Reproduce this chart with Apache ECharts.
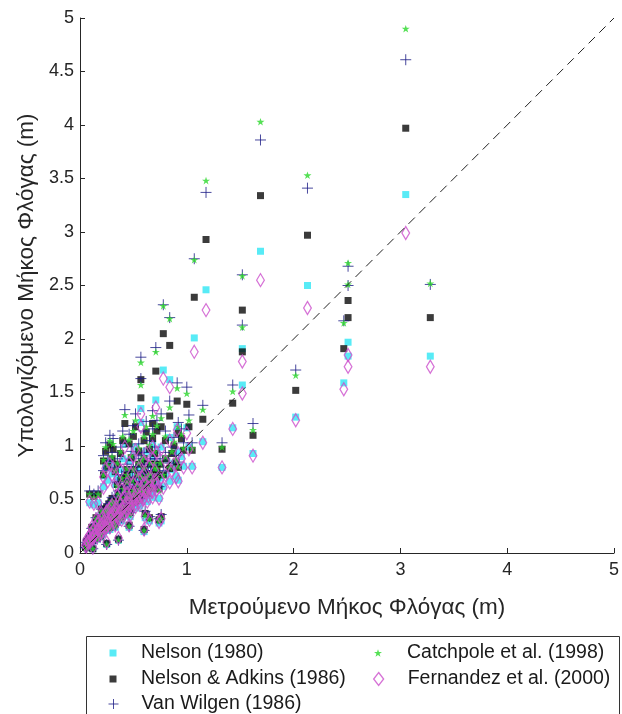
<!DOCTYPE html>
<html><head><meta charset="utf-8">
<script src="https://cdn.jsdelivr.net/npm/echarts@6/dist/echarts.min.js"></script>
<style>html,body{margin:0;padding:0;background:#fff}#c{width:622px;height:714px}</style>
</head><body><div id="c"></div>
<script>
// Measured flame length (m) — x
const measured = [
  3.05,2.13,1.69,1.18,2.51,2.51,2.47,3.28,1.52,1.52,1.43,1.15,1.33,1.62,2.02,1.07,
  0.09,0.13,0.17,0.22,0.22,0.24,0.26,0.28,0.30,0.31,0.33,0.35,0.38,0.40,0.42,0.44,0.46,0.48,0.50,0.52,
  0.55,0.57,0.57,0.58,0.60,0.62,0.65,0.68,0.68,0.70,0.71,0.72,0.76,0.78,0.80,0.84,0.84,0.88,0.91,0.92,
  0.95,1.00,1.02,
  0.12,0.25,0.36,0.46,0.60,0.61,0.65,0.74,0.76,
  0.05,0.06,0.07,0.08,0.09,0.10,0.11,0.12,0.13,0.14,0.15,0.16,0.17,0.18,0.19,0.20,0.21,0.22,0.23,0.24,
  0.25,0.26,0.27,0.28,0.29,0.30,0.31,0.32,0.33,0.34,0.35,0.36,0.37,0.38,0.39,0.40,0.41,0.42,0.43,0.44,
  0.45,0.46,0.47,0.48,0.49,0.50,0.52,0.53,0.54,0.55,0.56,0.58,0.59,0.60,0.62,0.63,0.64,0.66,0.67,0.68,
  0.70,0.72,0.74,0.75,0.78,0.80,0.84,0.86,0.90,0.92,0.97,1.05,
  0.06,0.08,0.10,0.12,0.14,0.16,0.18,0.20,0.22,0.24,0.26,0.28,0.30,0.32,0.34,0.36,0.38,0.40,0.42,0.44,
  0.46,0.48,0.50,0.52,0.54,0.56,0.58,0.60,0.62,0.64,0.66,0.68,0.70,0.72,
  0.25,0.29,0.35,0.39,0.44,0.50,0.55,0.60,0.20,0.15,0.11
];
const nelson = [
  3.35,2.50,2.82,2.46,1.97,1.84,1.59,1.84,1.91,1.57,1.17,1.04,0.80,0.93,1.27,2.01,
  0.47,0.45,0.47,0.72,0.62,0.80,0.68,0.85,0.74,0.82,0.64,0.70,0.78,0.88,1.02,0.66,0.86,0.75,0.92,0.99,
  0.80,1.35,1.22,0.72,0.88,0.95,0.82,0.90,1.02,0.78,1.43,0.96,0.99,1.71,0.88,1.08,1.62,0.84,1.18,0.95,
  0.90,1.17,0.99,
  0.04,0.08,0.12,0.24,0.20,0.33,0.30,0.28,0.30,
  0.06,0.10,0.08,0.13,0.10,0.16,0.12,0.18,0.14,0.22,0.17,0.25,0.20,0.28,0.15,0.24,0.32,0.19,0.28,0.36,
  0.22,0.31,0.40,0.26,0.35,0.44,0.30,0.38,0.24,0.42,0.33,0.48,0.37,0.45,0.30,0.40,0.52,0.36,0.46,0.56,
  0.40,0.50,0.34,0.44,0.58,0.48,0.42,0.55,0.62,0.46,0.52,0.60,0.50,0.66,0.56,0.48,0.62,0.70,0.58,0.52,
  0.66,0.60,0.51,0.70,0.62,0.74,0.67,0.78,0.72,0.68,0.81,0.81,
  0.05,0.08,0.09,0.11,0.15,0.13,0.19,0.17,0.23,0.21,0.27,0.22,0.33,0.28,0.36,0.31,0.40,0.34,0.44,0.38,
  0.46,0.40,0.52,0.46,0.50,0.44,0.55,0.52,0.60,0.54,0.63,0.58,0.70,0.66,
  0.38,0.42,0.55,0.60,0.62,0.66,0.70,0.74,0.36,0.30,0.22
];
const nelsonAdkins = [
  3.97,2.97,3.34,2.93,2.36,2.20,1.91,2.20,2.27,1.88,1.40,1.25,0.97,1.10,1.52,2.39,
  0.55,0.53,0.55,0.86,0.73,0.95,0.81,1.01,0.88,0.97,0.76,0.83,0.93,1.05,1.21,0.78,1.02,0.89,1.09,1.18,
  0.95,1.62,1.45,0.85,1.05,1.13,0.97,1.07,1.21,0.93,1.70,1.14,1.18,2.05,1.05,1.28,1.94,1.00,1.42,1.12,
  1.07,1.39,1.18,
  0.04,0.09,0.13,0.26,0.22,0.37,0.33,0.31,0.34,
  0.06,0.11,0.09,0.14,0.11,0.17,0.13,0.20,0.15,0.24,0.18,0.28,0.22,0.31,0.16,0.26,0.36,0.21,0.31,0.41,
  0.24,0.35,0.46,0.29,0.40,0.51,0.33,0.44,0.27,0.48,0.37,0.56,0.42,0.52,0.34,0.46,0.61,0.41,0.53,0.66,
  0.46,0.58,0.38,0.51,0.68,0.56,0.48,0.64,0.73,0.53,0.61,0.71,0.58,0.78,0.66,0.56,0.73,0.83,0.68,0.61,
  0.78,0.71,0.60,0.83,0.73,0.88,0.79,0.93,0.85,0.80,0.96,0.96,
  0.05,0.09,0.10,0.12,0.16,0.14,0.21,0.19,0.25,0.23,0.30,0.24,0.37,0.31,0.41,0.35,0.46,0.39,0.51,0.43,
  0.53,0.46,0.60,0.53,0.58,0.51,0.64,0.60,0.70,0.63,0.74,0.68,0.83,0.78,
  0.43,0.48,0.64,0.70,0.73,0.78,0.83,0.88,0.41,0.33,0.24
];
const vanWilgen = [
  4.61,3.41,3.86,3.37,2.68,2.50,2.17,2.51,2.60,2.13,1.57,1.38,1.03,1.21,1.71,2.75,
  0.58,0.55,0.58,0.91,0.77,1.03,0.86,1.10,0.94,1.07,0.80,0.88,0.99,1.14,1.34,0.83,1.11,0.95,1.19,1.30,
  1.02,1.83,1.63,0.91,1.14,1.23,1.05,1.16,1.33,0.99,1.92,1.24,1.30,2.32,1.14,1.42,2.20,1.08,1.59,1.22,
  1.16,1.55,1.29,
  0.04,0.08,0.12,0.25,0.21,0.39,0.34,0.32,0.36,
  0.05,0.10,0.08,0.13,0.10,0.16,0.12,0.19,0.14,0.23,0.17,0.27,0.21,0.30,0.15,0.25,0.36,0.20,0.30,0.41,
  0.23,0.34,0.46,0.28,0.40,0.52,0.33,0.44,0.26,0.49,0.37,0.58,0.42,0.54,0.33,0.46,0.63,0.41,0.55,0.69,
  0.46,0.60,0.38,0.52,0.71,0.58,0.49,0.67,0.77,0.55,0.63,0.74,0.60,0.83,0.69,0.58,0.77,0.88,0.71,0.63,
  0.83,0.74,0.62,0.88,0.77,0.94,0.84,0.99,0.91,0.85,1.03,1.03,
  0.05,0.08,0.09,0.11,0.15,0.13,0.20,0.18,0.25,0.22,0.29,0.23,0.37,0.30,0.41,0.34,0.46,0.38,0.51,0.43,
  0.54,0.46,0.62,0.54,0.59,0.51,0.66,0.62,0.73,0.64,0.77,0.70,0.88,0.82,
  0.43,0.48,0.66,0.73,0.76,0.81,0.88,0.94,0.41,0.33,0.23
];
const catchpole = [
  4.90,3.53,4.03,3.48,2.71,2.51,2.15,2.52,2.59,2.11,1.51,1.34,0.99,1.15,1.66,2.74,
  0.55,0.52,0.55,0.87,0.73,0.99,0.82,1.05,0.90,1.02,0.77,0.84,0.95,1.09,1.29,0.79,1.06,0.91,1.14,1.24,
  0.98,1.78,1.57,0.87,1.09,1.18,1.01,1.11,1.28,0.95,1.88,1.19,1.26,2.31,1.09,1.36,2.19,1.04,1.54,1.18,
  1.11,1.49,1.24,
  0.04,0.08,0.12,0.25,0.21,0.35,0.32,0.30,0.32,
  0.05,0.10,0.08,0.13,0.10,0.16,0.12,0.18,0.14,0.22,0.17,0.26,0.21,0.29,0.15,0.25,0.34,0.20,0.29,0.39,
  0.23,0.33,0.44,0.27,0.38,0.49,0.32,0.42,0.25,0.47,0.35,0.55,0.40,0.51,0.32,0.44,0.60,0.39,0.52,0.66,
  0.44,0.57,0.36,0.49,0.68,0.55,0.47,0.64,0.73,0.52,0.60,0.71,0.57,0.79,0.66,0.55,0.73,0.84,0.68,0.60,
  0.79,0.71,0.59,0.84,0.73,0.90,0.80,0.95,0.87,0.81,0.98,0.98,
  0.05,0.08,0.09,0.11,0.15,0.13,0.20,0.18,0.24,0.22,0.28,0.23,0.35,0.29,0.39,0.33,0.44,0.37,0.49,0.41,
  0.52,0.44,0.59,0.52,0.57,0.49,0.63,0.59,0.70,0.62,0.74,0.67,0.84,0.79,
  0.41,0.46,0.63,0.70,0.73,0.78,0.84,0.90,0.39,0.32,0.23
];
const fernandez = [
  2.99,2.29,2.55,2.27,1.85,1.74,1.53,1.74,1.79,1.49,1.16,1.03,0.80,0.91,1.24,1.88,
  0.48,0.46,0.47,0.71,0.61,0.79,0.67,0.83,0.73,0.80,0.63,0.69,0.77,0.86,0.99,0.65,0.84,0.74,0.90,0.96,
  0.79,1.30,1.18,0.71,0.86,0.93,0.81,0.88,0.99,0.77,1.36,0.94,0.97,1.63,0.86,1.05,1.55,0.83,1.15,0.93,
  0.88,1.12,0.97,
  0.05,0.10,0.14,0.26,0.22,0.34,0.31,0.29,0.32,
  0.07,0.12,0.10,0.15,0.12,0.18,0.14,0.20,0.16,0.24,0.19,0.27,0.22,0.30,0.17,0.26,0.33,0.21,0.30,0.37,
  0.24,0.32,0.41,0.28,0.36,0.45,0.31,0.39,0.26,0.43,0.34,0.48,0.38,0.46,0.31,0.41,0.52,0.37,0.47,0.56,
  0.41,0.50,0.35,0.45,0.58,0.48,0.43,0.55,0.61,0.47,0.52,0.59,0.50,0.65,0.56,0.48,0.61,0.69,0.58,0.52,
  0.65,0.59,0.51,0.69,0.61,0.73,0.66,0.77,0.71,0.67,0.80,0.80,
  0.06,0.10,0.11,0.13,0.17,0.15,0.21,0.19,0.25,0.23,0.28,0.24,0.34,0.29,0.37,0.32,0.40,0.35,0.44,0.39,
  0.46,0.41,0.51,0.46,0.50,0.45,0.54,0.51,0.59,0.53,0.62,0.57,0.68,0.65,
  0.39,0.43,0.54,0.59,0.61,0.65,0.69,0.73,0.37,0.31,0.24
];
const seriesNames = ['Nelson (1980)','Nelson & Adkins (1986)','Van Wilgen (1986)','Catchpole et al. (1998)','Fernandez et al. (2000)'];
const xTicks = [0,1,2,3,4,5];
const yTicks = [0,0.5,1,1.5,2,2.5,3,3.5,4,4.5,5];
const refLine = [[0,0],[5,5]];
const xName = 'Μετρούμενο Μήκος Φλόγας (m)';
const yName = 'Υπολογιζόμενο Μήκος Φλόγας (m)';

const SQ = 'path://M0,0H10V10H0Z';
const PLUS = 'path://M0,5H10M5,0V10';
const STAR = 'path://M5,0L6.2,3.6L10,3.6L6.9,5.8L8.1,9.5L5,7.2L1.9,9.5L3.1,5.8L0,3.6L3.8,3.6Z';
const DIA = 'path://M5,0L10,6.5L5,13L0,6.5Z';
const CYAN = '#2ee6f4', BLACK = '#0a0a0a', NAVY = '#1c1c86', GREEN = '#2ad82a', MAG = '#cc4fcc';

const pair = arr => measured.map((x, i) => [x, arr[i]]);
const FONT = 'Liberation Sans, Arial, sans-serif';
const axisCol = '#262626';

const styles = [
  {symbol: SQ, size: 7, itemStyle: {color: CYAN}},
  {symbol: SQ, size: 7, itemStyle: {color: BLACK}},
  {symbol: PLUS, size: 11, itemStyle: {color: NAVY, borderColor: NAVY, borderWidth: 1}},
  {symbol: STAR, size: 8, itemStyle: {color: GREEN}},
  {symbol: DIA, size: [10, 13], itemStyle: {color: 'rgba(0,0,0,0)', borderColor: MAG, borderWidth: 1.3}}
];
const values = [nelson, nelsonAdkins, vanWilgen, catchpole, fernandez];

const series = values.map((v, k) => ({
  name: seriesNames[k], type: 'scatter', data: pair(v),
  symbol: styles[k].symbol, symbolSize: styles[k].size, symbolKeepAspect: true,
  itemStyle: styles[k].itemStyle, z: 2 + k, silent: true, animation: false
}));
series.push({
  type: 'line', data: refLine, symbol: 'none', z: 10, silent: true, animation: false,
  lineStyle: {color: '#222', width: 1, type: [9, 6]}
});

// legend layout: [markerCenterX, rowCenterY, w, h]
const legPos = [[113,653,7,7],[113,679,7,7],[113,704,10,10],[378,653,8,8],[378,679,10,13]];
const textStarts = [141,141,141,407,407];
const legends = seriesNames.map((n, k) => {
  const [cx, cy, w, h] = legPos[k];
  return {
    data: [{name: n, icon: styles[k].symbol, itemStyle: styles[k].itemStyle}],
    left: cx - w / 2, top: cy - 11, itemWidth: w, itemHeight: h, padding: 0,
    symbolKeepAspect: true, selectedMode: false,
    textStyle: {fontFamily: FONT, fontSize: 19.5, color: '#1a1a1a', lineHeight: 22,
      padding: [0, 0, 0, textStarts[k] - (cx + w / 2) - 5]}
  };
});

const chart = echarts.init(document.getElementById('c'), null, {renderer: 'canvas'});
chart.setOption({
  animation: false,
  grid: {left: 80, top: 18, width: 535, height: 535, containLabel: false},
  xAxis: {
    type: 'value', min: xTicks[0], max: xTicks[xTicks.length - 1], interval: 1,
    name: xName, nameLocation: 'middle', nameGap: 43,
    nameTextStyle: {fontFamily: FONT, fontSize: 22.5, color: axisCol},
    axisLine: {show: true, onZero: false, lineStyle: {color: axisCol, width: 1}},
    axisTick: {show: true, inside: true, length: 5, lineStyle: {color: axisCol}},
    axisLabel: {fontFamily: FONT, fontSize: 18, color: axisCol, margin: 8},
    splitLine: {show: false}
  },
  yAxis: {
    type: 'value', min: yTicks[0], max: yTicks[yTicks.length - 1], interval: 0.5,
    name: yName, nameLocation: 'middle', nameGap: 27, nameRotate: 90,
    nameTextStyle: {fontFamily: FONT, fontSize: 22.5, color: axisCol},
    axisLine: {show: true, onZero: false, lineStyle: {color: axisCol, width: 1}},
    axisTick: {show: true, inside: true, length: 5, lineStyle: {color: axisCol}},
    axisLabel: {fontFamily: FONT, fontSize: 18, color: axisCol, margin: 6},
    splitLine: {show: false}
  },
  legend: legends,
  graphic: [{type: 'rect', left: 84, top: 634, shape: {width: 533, height: 79},
    style: {fill: 'none', stroke: '#333', lineWidth: 1}, silent: true, z: 0}],
  series: series
});
</script></body></html>
